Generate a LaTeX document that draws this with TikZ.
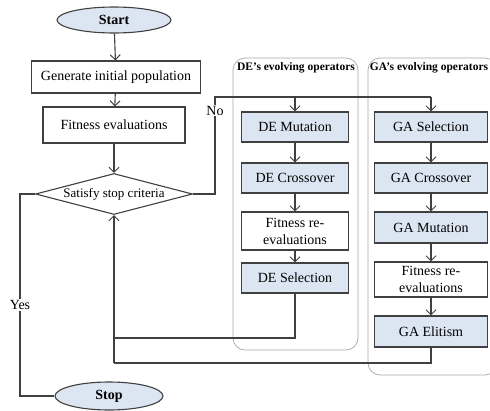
\documentclass[tikz,border=0pt]{standalone}
\usepackage{fontspec}
\setmainfont{Liberation Serif}
\usetikzlibrary{shapes.geometric,arrows.meta}
\definecolor{boxfill}{HTML}{DCE6F2}
\definecolor{boxline}{HTML}{404040}
\definecolor{panelline}{HTML}{A8A8A8}
\begin{document}
\begin{tikzpicture}[x=1pt,y=-1pt,
  txt/.style={font=\fontsize{14}{17}\selectfont},
  plain/.style={draw=boxline,line width=1.1pt,fill=white,inner sep=0pt,txt,align=center},
  blue/.style={plain,fill=boxfill},
  term/.style={ellipse,draw=boxline,line width=1.1pt,fill=boxfill,inner sep=0pt,font=\fontsize{14}{17}\selectfont\bfseries},
  panel/.style={draw=panelline,line width=0.7pt,rounded corners=12pt},
  ptitle/.style={font=\fontsize{11.5}{13}\selectfont\bfseries,inner sep=0pt},
  conn/.style={draw=boxline,line width=1.1pt},
  arr/.style={conn,-{Straight Barb[length=5pt,width=10pt,line width=1pt]}},
  lab/.style={fill=white,inner sep=1pt,txt}]
\useasboundingbox (0,0) rectangle (490,410);
% panels
\draw[panel] (233,58) rectangle (358,350);
\draw[panel] (368,58) rectangle (497,375);
\node[ptitle] (detitle) at (296,68) {DE’s evolving operators};
\node[ptitle] (gatitle) at (429,68) {GA’s evolving operators};
% main column
\node[term,minimum width=114pt,minimum height=26pt] (start) at (114,20) {Start};
\node[plain,minimum width=169pt,minimum height=32pt] (gen) at (116,77) {Generate initial population};
\node[plain,minimum width=142pt,minimum height=36pt] (fit) at (114,125) {Fitness evaluations};
\node[diamond,draw=boxline,line width=1.1pt,fill=white,inner sep=0pt,aspect=3.8,minimum width=157pt,minimum height=41pt,font=\fontsize{13}{15}\selectfont] (dia) at (114,194) {Satisfy stop criteria};
\node[term,minimum width=108pt,minimum height=28pt] (stop) at (109,396) {Stop};
% DE column
\node[blue,minimum width=107pt,minimum height=30pt] (demut) at (295,127) {DE Mutation};
\node[blue,minimum width=107pt,minimum height=30pt] (decro) at (295,178) {DE Crossover};
\node[plain,minimum width=107pt,minimum height=38pt] (defit) at (295,231) {Fitness re-\\evaluations};
\node[blue,minimum width=107pt,minimum height=30pt] (desel) at (295,278) {DE Selection};
% GA column
\node[blue,minimum width=113pt,minimum height=30pt] (gasel) at (431,127) {GA Selection};
\node[blue,minimum width=113pt,minimum height=30pt] (gacro) at (431,178) {GA Crossover};
\node[blue,minimum width=113pt,minimum height=31pt] (gamut) at (431,227.5) {GA Mutation};
\node[plain,minimum width=113pt,minimum height=35pt] (gafit) at (431,279.5) {Fitness re-\\evaluations};
\node[blue,minimum width=113pt,minimum height=31pt] (gael) at (431,331.5) {GA Elitism};
% coordinates
\coordinate (noA) at (215,194);
\coordinate (noB) at (215,97);
\coordinate (noDE) at (295,97);
\coordinate (noGA) at (431,97);
\coordinate (deB) at (295,338);
\coordinate (deL) at (114,338);
\coordinate (gaB) at (431,363);
\coordinate (gaL) at (114,363);
\coordinate (yesA) at (20,194);
\coordinate (yesB) at (20,396);
% connectors
\draw[arr] (start) -- (gen);
\draw[arr] (gen) -- (fit);
\draw[arr] (fit) -- (dia);
\draw[conn] (dia.east) -- (noA) -- node[lab,pos=0.86] (nolab) {No} (noB) -- (noGA);
\draw[arr] (noGA) -- (gasel);
\draw[arr] (noDE) -- (demut);
\draw[arr] (demut) -- (decro);
\draw[arr] (decro) -- (defit);
\draw[arr] (defit) -- (desel);
\draw[arr] (gasel) -- (gacro);
\draw[arr] (gacro) -- (gamut);
\draw[arr] (gamut) -- (gafit);
\draw[arr] (gafit) -- (gael);
\draw[conn] (desel.south) -- (deB) -- (deL);
\draw[conn] (gael.south) -- (gaB) -- (gaL);
\draw[arr] (gaL) -- (dia.south);
\draw[conn] (dia.west) -- (yesA) -- node[lab,pos=0.55] (yeslab) {Yes} (yesB) -- (stop.west);
\end{tikzpicture}
\end{document}
